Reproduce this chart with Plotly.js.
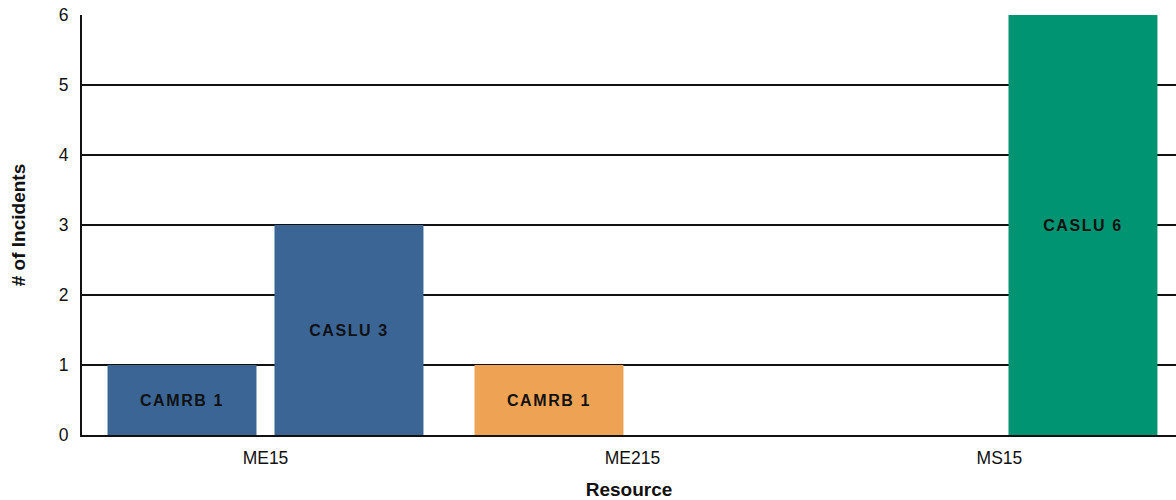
<!DOCTYPE html>
<html><head><meta charset="utf-8">
<script src="https://cdn.plot.ly/plotly-3.0.1.min.js"></script>
<style>html,body{margin:0;padding:0;background:#fff;overflow:hidden}
.bartext{letter-spacing:1.6px}</style>
</head><body><div id="chart" style="width:1176px;height:500px"></div>
<script>
const categories = ["ME15", "ME215", "MS15"];
const camrbX = ["ME15", "ME215"];
const camrbY = [1, 1];
const camrbColors = ["#3A6595", "#EEA354"];
const casluX = ["ME15", "MS15"];
const casluY = [3, 6];
const casluColors = ["#3A6595", "#009472"];
const yTicks = [0, 1, 2, 3, 4, 5, 6];

const font = "Liberation Sans, Arial, sans-serif";
function mk(name, xs, ys, colors) {
  return {
    type: "bar", name: name, x: xs, y: ys,
    marker: {color: colors, line: {width: 0}},
    text: ys.map(v => name + " " + v),
    textposition: "inside", insidetextanchor: "middle",
    textangle: 0, constraintext: "none",
    textfont: {family: font, size: 16, color: "#111", weight: "bold"},
    hoverinfo: "none"
  };
}
const data = [mk("CAMRB", camrbX, camrbY, camrbColors), mk("CASLU", casluX, casluY, casluColors)];
const layout = {
  width: 1176, height: 500,
  margin: {l: 82, r: 0, t: 15, b: 65, pad: 0},
  barmode: "group", bargap: 0.09, bargroupgap: 0.108,
  showlegend: false,
  paper_bgcolor: "#fff", plot_bgcolor: "#fff",
  font: {family: font, size: 17, color: "#111"},
  xaxis: {
    type: "category", categoryarray: categories, categoryorder: "array",
    range: [-0.5, 2.481], showgrid: false, showline: true, linecolor: "#111", linewidth: 2,
    ticks: "", tickfont: {size: 17.5, color: "#111"}, ticklabelstandoff: 6,
    title: {text: "Resource", font: {size: 19, weight: "bold", color: "#111"}, standoff: 16}
  },
  yaxis: {
    range: [0, 6], tickvals: yTicks, showgrid: true, gridcolor: "#111", gridwidth: 2,
    zeroline: false, showline: true, linecolor: "#111", linewidth: 2,
    ticks: "", tickfont: {size: 17.5, color: "#111"}, ticklabelstandoff: 8,
    title: {text: "# of Incidents", font: {size: 19, weight: "bold", color: "#111"}, standoff: 28}
  }
};
Plotly.newPlot("chart", data, layout, {staticPlot: true, displayModeBar: false});
</script></body></html>
